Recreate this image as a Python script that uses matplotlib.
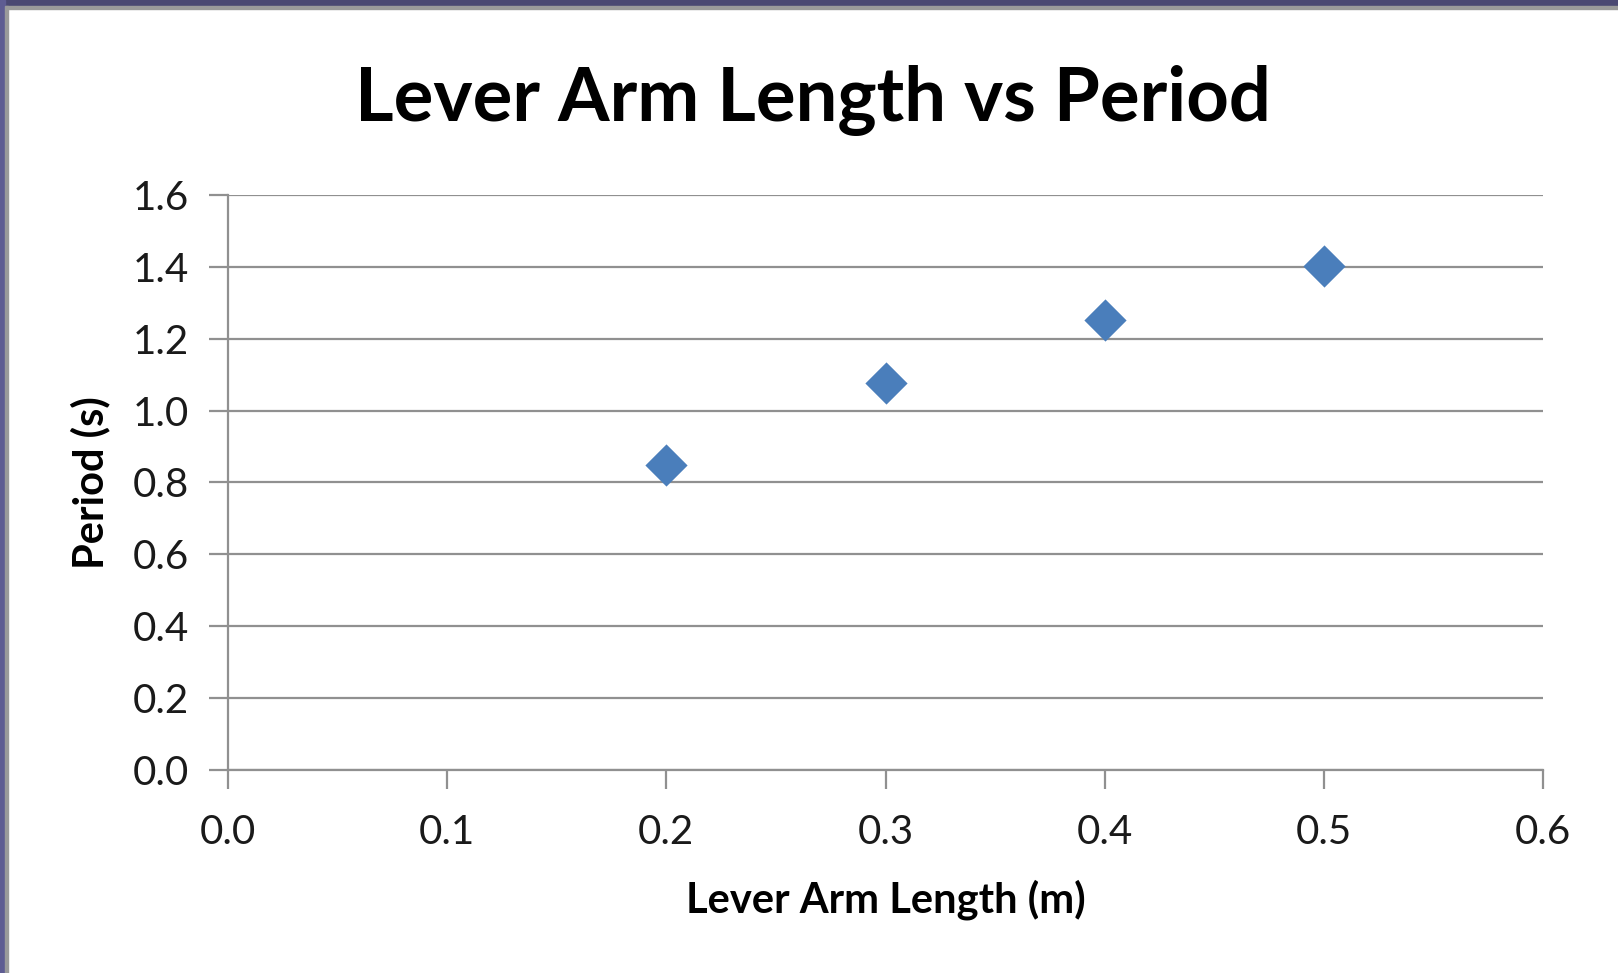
import matplotlib.pyplot as plt
from matplotlib.patches import Rectangle

# data
lever_arm = [0.2, 0.3, 0.4, 0.5]
period = [0.85, 1.077, 1.253, 1.402]

x_ticks = [0.0, 0.1, 0.2, 0.3, 0.4, 0.5, 0.6]
y_ticks = [0.0, 0.2, 0.4, 0.6, 0.8, 1.0, 1.2, 1.4, 1.6]

plt.rcParams['font.family'] = ['Lato', 'DejaVu Sans']

fig = plt.figure(figsize=(16.18, 9.73), dpi=100)
W, H = 1618, 973

# window frame: dark band on top / left with grey shadow
fig.patches.append(Rectangle((0, 1 - 6 / H), 1, 6 / H, transform=fig.transFigure,
                             color='#4a4872', zorder=0))
fig.patches.append(Rectangle((0, 1 - 9 / H), 1, 3 / H, transform=fig.transFigure,
                             color='#9a9a9a', zorder=0))
fig.patches.append(Rectangle((0, 0), 5 / W, 1, transform=fig.transFigure,
                             color='#5e5c92', zorder=0))
fig.patches.append(Rectangle((5 / W, 0), 3 / W, 1 - 6 / H, transform=fig.transFigure,
                             color='#9a9a9a', zorder=0))

ax = fig.add_axes([228 / W, 1 - 770 / H, (1543 - 228) / W, (770 - 195) / H])

ax.scatter(lever_arm, period, marker='D', s=21.5 ** 2, color='#4a7ebb', zorder=3,
           linewidths=0, clip_on=False)

ax.set_xlim(0, 0.6)
ax.set_ylim(0, 1.6)
ax.set_xticks(x_ticks)
ax.set_yticks(y_ticks)
ax.set_xticklabels(['%.1f' % v for v in x_ticks])
ax.set_yticklabels(['%.1f' % v for v in y_ticks])

ax.grid(axis='y', color='#909090', linewidth=1.6)
ax.set_axisbelow(True)
for side in ['top', 'right']:
    ax.spines[side].set_visible(False)
for side in ['left', 'bottom']:
    ax.spines[side].set_color('#909090')
    ax.spines[side].set_linewidth(1.6)
ax.tick_params(axis='both', direction='out', length=14, width=1.6, color='#909090',
               labelsize=29, labelcolor='#1a1a1a')
ax.tick_params(axis='x', pad=18)
ax.tick_params(axis='y', pad=14)

ax.set_xlabel('Lever Arm Length (m)', fontsize=30, fontweight='bold', labelpad=20)
ax.set_ylabel('Period (s)', fontsize=30, fontweight='bold', labelpad=16)

fig.text(813 / W, 1 - 100 / H, 'Lever Arm Length vs Period', ha='center', va='center',
         fontsize=53.5, fontweight='bold')

fig.savefig('out.png', dpi=100, facecolor='white')
